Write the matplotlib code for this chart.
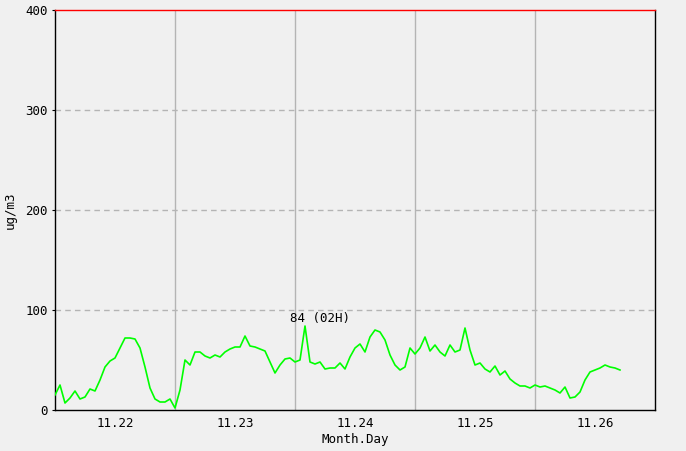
import numpy as np
import matplotlib
matplotlib.use("Agg")
import matplotlib.pyplot as plt

matplotlib.rcParams.update({
    "font.family": "DejaVu Sans Mono",
    "font.size": 9,
})

# hourly values starting 11.22 00H
day1 = [15, 25, 7, 12, 19, 11, 13, 21, 19, 30, 43, 49, 52, 62, 72, 72, 71, 62, 43, 22, 11, 8, 8, 11]
day2 = [2, 20, 50, 45, 58, 58, 54, 52, 55, 53, 58, 61, 63, 63, 74, 64, 63, 61, 59, 48, 37, 45, 51, 52]
day3 = [48, 50, 84, 48, 46, 48, 41, 42, 42, 47, 41, 53, 62, 66, 58, 73, 80, 78, 70, 55, 45, 40, 43, 62]
day4 = [56, 62, 73, 59, 65, 58, 54, 65, 58, 60, 82, 60, 45, 47, 41, 38, 44, 35, 39, 31, 27, 24, 24, 22]
day5 = [25, 23, 24, 22, 20, 17, 23, 12, 13, 18, 30, 38, 40, 42, 45, 43, 42, 40]
values = day1 + day2 + day3 + day4 + day5
hours = np.arange(len(values))

day_labels = ["11.22", "11.23", "11.24", "11.25", "11.26"]
y_ticks = [0, 100, 200, 300, 400]

bg = "#f0f0f0"
fig = plt.figure(figsize=(6.86, 4.51), dpi=100, facecolor=bg)
ax = fig.add_axes([55 / 686, 41 / 451, 600 / 686, 400 / 451], facecolor=bg)

ax.plot(hours, values, color="#00ff00", lw=1.2, zorder=3)

# peak annotation, placed just left of the peak
i_max = int(np.argmax(values))
ax.text(hours[i_max] - 3, values[i_max] + 1, "%d (%02dH)" % (values[i_max], i_max % 24),
        ha="left", va="bottom", fontsize=9, zorder=4)

ax.set_xlim(0, 120)
ax.set_ylim(0, 400)
ax.set_yticks(y_ticks)
ax.set_xticks([12 + 24 * i for i in range(len(day_labels))])
ax.set_xticklabels(day_labels)
ax.tick_params(axis="x", which="both", length=0, pad=5)
ax.tick_params(axis="y", length=2, pad=3)

for h in [24, 48, 72, 96]:
    ax.axvline(h, color="#b4b4b4", lw=1.0, zorder=1)
for v in [100, 200, 300]:
    ax.axhline(v, color="#b4b4b4", lw=1.0, ls=(0, (4, 3)), zorder=1)

for s in ["left", "bottom", "right"]:
    ax.spines[s].set_color("black")
    ax.spines[s].set_linewidth(1.0)
ax.spines["top"].set_color("red")
ax.spines["top"].set_linewidth(1.0)

ax.set_xlabel("Month.Day", labelpad=2)
ax.set_ylabel("ug/m3", labelpad=6)

fig.savefig("out.png", dpi=100, facecolor=bg)
